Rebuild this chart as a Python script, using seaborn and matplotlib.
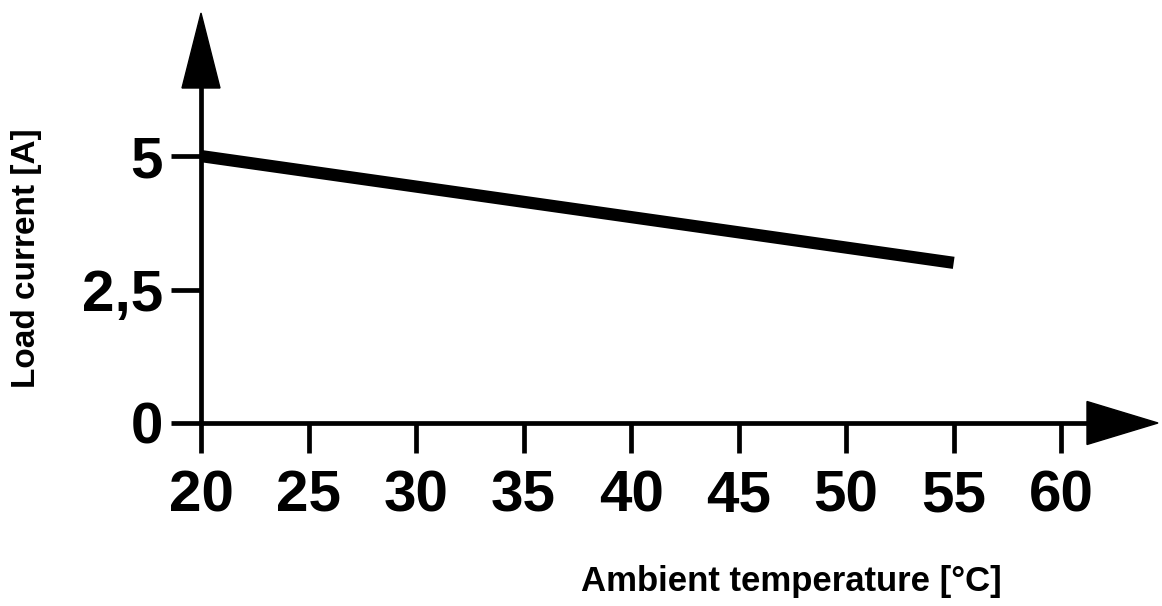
import matplotlib
matplotlib.use("Agg")
import matplotlib.pyplot as plt
from matplotlib.patches import Polygon
import seaborn as sns
import pandas as pd

# Derating curve: load current versus ambient temperature
temperature = [20, 55]
load_current = [5.0, 3.0]

x_ticks = [20, 25, 30, 35, 40, 45, 50, 55, 60]
x_tick_labels = ["20", "25", "30", "35", "40", "45", "50", "55", "60"]
y_ticks = [0, 2.5, 5]
y_tick_labels = ["0", "2,5", "5"]

x_label = "Ambient temperature [°C]"
y_label = "Load current [A]"

sns.set_style("white")
plt.rcParams["font.family"] = ["Liberation Sans", "DejaVu Sans"]
plt.rcParams["axes.labelcolor"] = "black"
plt.rcParams["text.color"] = "black"

W, H, DPI = 1162, 606, 100
fig = plt.figure(figsize=(W / DPI, H / DPI), dpi=DPI)

# axes box in pixels: origin at (201, 423), arrow tips at x=1158 and y=13
ax_l, ax_r, ax_b, ax_t = 201, 1158, 423, 13
ax = fig.add_axes([ax_l / W, (H - ax_b) / H, (ax_r - ax_l) / W, (ax_b - ax_t) / H])
ax_w_px, ax_h_px = ax_r - ax_l, ax_b - ax_t

df = pd.DataFrame({"temperature": temperature, "current": load_current})
sns.lineplot(data=df, x="temperature", y="current", ax=ax, color="black",
             linewidth=8.8, solid_capstyle="butt", zorder=3)

xmax, ymax = 64.5, 7.68
ax.set_xlim(20, xmax)
ax.set_ylim(0, ymax)

ax.set_xticks(x_ticks)
ax.set_xticklabels(x_tick_labels)
ax.set_yticks(y_ticks)
ax.set_yticklabels(y_tick_labels)
ax.tick_params(axis="both", direction="out", length=21.5, width=3.4,
               color="black", labelsize=42, labelcolor="black",
               bottom=True, left=True)
ax.tick_params(axis="x", pad=12)
ax.tick_params(axis="y", pad=6)
for lbl in ax.get_xticklabels() + ax.get_yticklabels():
    lbl.set_fontweight("semibold")

for side in ("top", "right"):
    ax.spines[side].set_visible(False)

# arrow heads at the ends of both axes
y_head_len, y_head_half = 75, 19
x_head_len, x_head_half = 71, 21.5
for side in ("left", "bottom"):
    ax.spines[side].set_linewidth(3.4)
    ax.spines[side].set_color("black")
ax.spines["left"].set_bounds(0, ymax * (1 - y_head_len / ax_h_px))
ax.spines["bottom"].set_bounds(20, 20 + (xmax - 20) * (1 - x_head_len / ax_w_px))

y_arrow = Polygon([(0, 1), (-y_head_half / ax_w_px, 1 - y_head_len / ax_h_px),
                   (y_head_half / ax_w_px, 1 - y_head_len / ax_h_px)],
                  closed=True, transform=ax.transAxes, color="black",
                  clip_on=False, zorder=4)
x_arrow = Polygon([(1, 0), (1 - x_head_len / ax_w_px, x_head_half / ax_h_px),
                   (1 - x_head_len / ax_w_px, -x_head_half / ax_h_px)],
                  closed=True, transform=ax.transAxes, color="black",
                  clip_on=False, zorder=4)
ax.add_patch(y_arrow)
ax.add_patch(x_arrow)

ax.set_xlabel(x_label, fontsize=25, fontweight="bold", va="center", ha="center")
ax.xaxis.set_label_coords((791 - ax_l) / ax_w_px, (ax_b - 582) / ax_h_px)
ax.set_ylabel(y_label, fontsize=24, fontweight="bold", va="center", ha="center")
ax.yaxis.set_label_coords((27 - ax_l) / ax_w_px, (ax_b - 258) / ax_h_px)

ax.patch.set_alpha(0)
fig.patch.set_facecolor("white")
fig.savefig("out.png", dpi=DPI)
